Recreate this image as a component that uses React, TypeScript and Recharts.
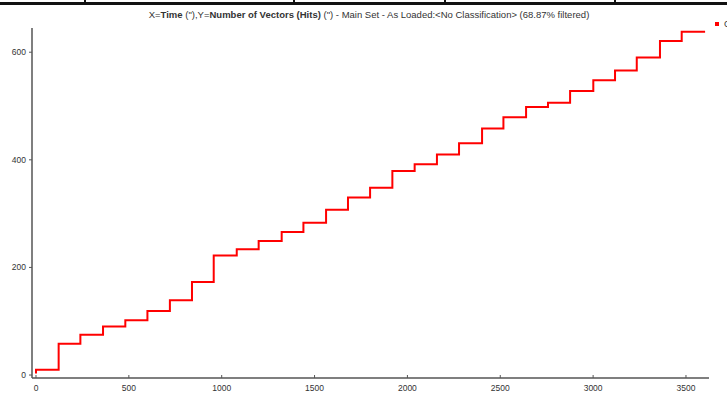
import { LineChart, Line, XAxis, YAxis, Legend } from "recharts";

// step times (s) and cumulative hit counts
const times = [0, 0, 122, 239, 361, 481, 600, 721, 840, 957, 1081, 1199, 1323, 1440, 1562, 1680, 1799, 1919, 2039, 2159, 2278, 2402, 2517, 2639, 2757, 2876, 3001, 3118, 3235, 3360, 3477, 3603];
const hits = [3, 10, 58, 75, 90, 102, 119, 139, 173, 222, 234, 249, 266, 283, 307, 330, 348, 379, 392, 410, 431, 458, 479, 498, 506, 528, 548, 566, 590, 621, 638, 638];

const xTicks = [0, 500, 1000, 1500, 2000, 2500, 3000, 3500];
const yTicks = [0, 200, 400, 600];
const seriesName = "Count";

const xDomain = [-21.5, 3624];
const yDomain = [-5.5, 645];

const data = times.map((t, i) => ({ time: t, hits: hits[i] }));

const FONT = "'Liberation Sans', Arial, sans-serif";
const FRAME = "#555";
const TEXT = "#333";

function BottomTick(props: any) {
  const { x, y, payload } = props;
  return (
    <g>
      <line x1={x} y1={y - 3} x2={x} y2={y} stroke={FRAME} />
      <text x={x} y={y + 13} textAnchor="middle" fontSize={8.5} fontFamily={FONT} fill={TEXT}>
        {payload.value}
      </text>
    </g>
  );
}

function LegendBox() {
  return (
    <div style={{ display: "flex", alignItems: "center", whiteSpace: "nowrap", fontFamily: FONT, fontSize: 9, color: TEXT }}>
      <span style={{ display: "inline-block", width: 4, height: 4, background: "#ff0000" }} />
      <span style={{ marginLeft: 5 }}>{seriesName}</span>
    </div>
  );
}

export default function App() {
  return (
    <div style={{ position: "fixed", left: 0, top: 0, width: 727, height: 394, overflow: "hidden", background: "#fff" }}>
      {/* table border cut off at the top */}
      <div style={{ position: "absolute", left: 0, top: 2, width: 727, height: 2.5, background: "#111" }} />
      {[84, 293, 444, 614].map((x) => (
        <div key={x} style={{ position: "absolute", left: x, top: 0, width: 2, height: 4, background: "#111" }} />
      ))}
      <div
        style={{
          position: "absolute",
          left: 0,
          top: 9,
          width: 738,
          textAlign: "center",
          fontFamily: FONT,
          fontSize: 9.5,
          lineHeight: "12px",
          color: TEXT,
          whiteSpace: "nowrap",
        }}
      >
        X=<b>Time</b> (&quot;),Y=<b>Number of Vectors (Hits)</b> (&quot;) - Main Set - As Loaded:&lt;No Classification&gt; (68.87% filtered)
      </div>
      <LineChart width={727} height={394} data={data} margin={{ top: 28, right: 18, left: 0, bottom: 0 }}>
        <XAxis
          dataKey="time"
          type="number"
          domain={xDomain}
          allowDataOverflow
          ticks={xTicks}
          height={16}
          tickSize={0}
          tickMargin={0}
          tickLine={false}
          tick={<BottomTick />}
          axisLine={{ stroke: FRAME, strokeWidth: 1.5 }}
        />
        <XAxis
          xAxisId="top"
          orientation="top"
          type="number"
          domain={xDomain}
          allowDataOverflow
          height={0}
          tick={false}
          tickLine={false}
          axisLine={{ stroke: FRAME, strokeWidth: 1.5 }}
        />
        <YAxis
          type="number"
          domain={yDomain}
          allowDataOverflow
          ticks={yTicks}
          width={32}
          tickSize={3}
          tickMargin={3}
          tick={{ fontSize: 8.5, fill: TEXT, fontFamily: FONT }}
          tickLine={{ stroke: FRAME }}
          axisLine={{ stroke: FRAME, strokeWidth: 1.5 }}
        />
        <YAxis
          yAxisId="right"
          orientation="right"
          type="number"
          domain={yDomain}
          allowDataOverflow
          width={0}
          tick={false}
          tickLine={false}
          axisLine={{ stroke: FRAME, strokeWidth: 1.5 }}
        />
        <Legend
          layout="vertical"
          align="center"
          verticalAlign="middle"
          wrapperStyle={{ left: 715, top: 19, width: 60 }}
          content={() => <LegendBox />}
        />
        <Line
          type="stepAfter"
          dataKey="hits"
          name={seriesName}
          stroke="#ff0000"
          strokeWidth={2}
          dot={false}
          isAnimationActive={false}
        />
      </LineChart>
    </div>
  );
}
